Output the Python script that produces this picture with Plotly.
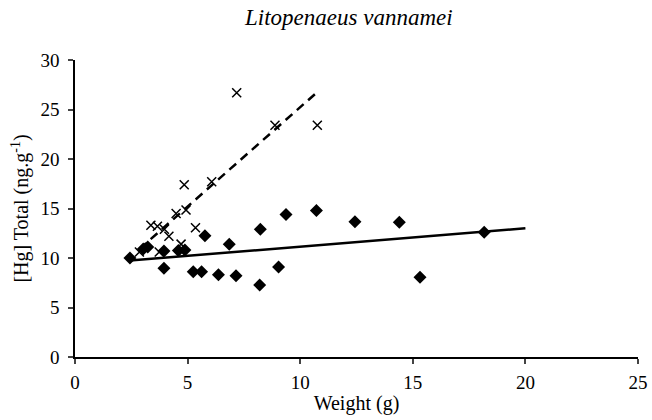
import plotly.graph_objects as go

# Diamond series (solid trendline)
dia_x = [2.44, 3.03, 3.23, 3.95, 3.95, 4.59, 4.88, 5.25, 5.62, 5.77, 6.37, 6.85,
         7.15, 8.20, 8.23, 9.04, 9.37, 10.72, 12.43, 14.40, 15.32, 18.17]
dia_y = [10.0, 10.9, 11.1, 10.7, 8.96, 10.75, 10.8, 8.6, 8.6, 12.25, 8.3, 11.4,
         8.2, 7.27, 12.9, 9.1, 14.4, 14.8, 13.67, 13.6, 8.05, 12.6]

# Cross series (dashed trendline)
crs_x = [2.86, 3.37, 3.66, 3.74, 3.97, 4.17, 4.49, 4.71, 4.85, 4.93, 5.35, 6.07,
         7.18, 8.88, 10.76]
crs_y = [10.6, 13.3, 13.2, 10.6, 12.9, 12.2, 14.5, 11.4, 17.4, 14.85, 13.05, 17.7,
         26.7, 23.4, 23.4]

# Trendlines
trend_solid_x = [2.44, 20.0]
trend_solid_y = [9.75, 13.0]
trend_dash_x = [2.86, 10.78]
trend_dash_y = [10.9, 26.8]

x_ticks = [0, 5, 10, 15, 20, 25]
y_ticks = [0, 5, 10, 15, 20, 25, 30]

FONT = "Liberation Serif, Times New Roman, serif"

fig = go.Figure()
fig.add_trace(go.Scatter(x=trend_solid_x, y=trend_solid_y, mode="lines",
                         line=dict(color="black", width=2.5), hoverinfo="skip"))
fig.add_trace(go.Scatter(x=trend_dash_x, y=trend_dash_y, mode="lines",
                         line=dict(color="black", width=2.5, dash="9px,6px"),
                         hoverinfo="skip"))
fig.add_trace(go.Scatter(x=dia_x, y=dia_y, mode="markers",
                         marker=dict(symbol="diamond", size=10, color="black")))
fig.add_trace(go.Scatter(x=crs_x, y=crs_y, mode="markers",
                         marker=dict(symbol="x-thin", size=9,
                                     line=dict(color="black", width=1.5))))

fig.update_layout(
    width=652, height=420,
    margin=dict(l=75, r=14, t=60, b=63),
    paper_bgcolor="white", plot_bgcolor="white",
    showlegend=False,
    font=dict(family=FONT, size=18, color="black"),
    title=dict(text="<i>Litopenaeus vannamei</i>", x=0.535, xanchor="center",
               y=0.96, yanchor="middle",
               font=dict(family=FONT, size=23, color="black")),
    xaxis=dict(range=[0, 25], tickvals=x_ticks, ticks="outside", ticklen=5,
               tickwidth=1.5, showline=True, linecolor="black", linewidth=1.5,
               showgrid=False, zeroline=False, tickfont=dict(size=19),
               ticklabelstandoff=2, automargin=False,
               title=dict(text="Weight (g)", standoff=4,
                          font=dict(family=FONT, size=20))),
    yaxis=dict(range=[0, 30], tickvals=y_ticks, ticks="outside", ticklen=5,
               tickwidth=1.5, showline=True, linecolor="black", linewidth=1.5,
               showgrid=False, zeroline=False, tickfont=dict(size=19),
               ticklabelstandoff=5, automargin=False,
               title=dict(text="[Hg] Total (ng.g<sup>-1</sup>)", standoff=6,
                          font=dict(family=FONT, size=20))),
)

fig.write_html("out.html")
